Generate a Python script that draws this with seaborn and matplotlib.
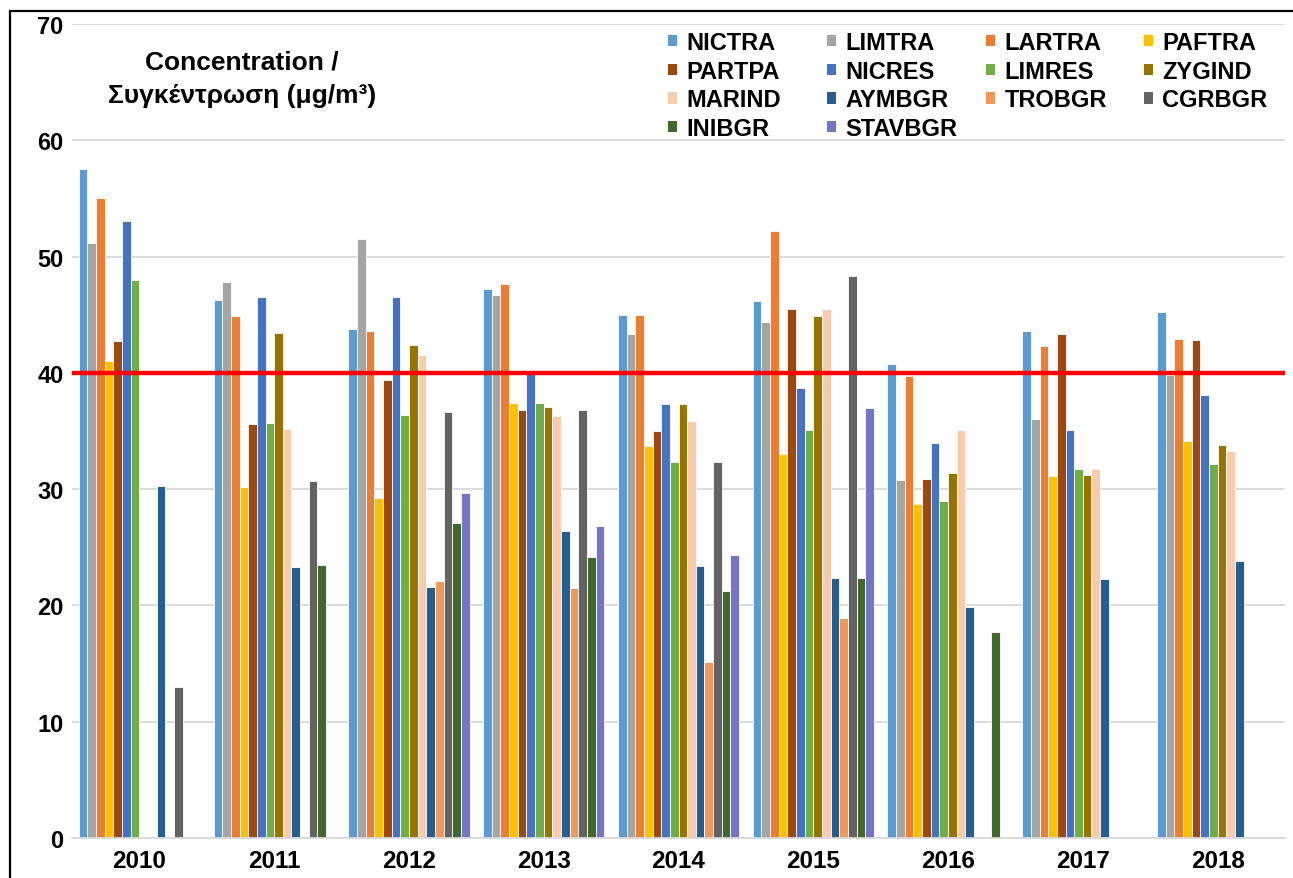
import numpy as np
import pandas as pd
import matplotlib
matplotlib.use("Agg")
import matplotlib.pyplot as plt
import seaborn as sns
from matplotlib.patches import Patch, Rectangle

# data (NO2 annual means, µg/m3)
years = ['2010', '2011', '2012', '2013', '2014', '2015', '2016', '2017', '2018']
stations = ['NICTRA', 'LIMTRA', 'LARTRA', 'PAFTRA', 'PARTPA', 'NICRES', 'LIMRES',
            'ZYGIND', 'MARIND', 'AYMBGR', 'TROBGR', 'CGRBGR', 'INIBGR', 'STAVBGR']

NICTRA = [57.5, 46.3, 43.8, 47.2, 45.0, 46.2, 40.8, 43.6, 45.2]
LIMTRA = [51.2, 47.8, 51.5, 46.7, 43.3, 44.4, 30.8, 36.0, 39.8]
LARTRA = [55.0, 44.9, 43.6, 47.6, 45.0, 52.2, 39.7, 42.3, 42.9]
PAFTRA = [41.0, 30.2, 29.2, 37.4, 33.7, 33.0, 28.7, 31.1, 34.1]
PARTPA = [42.7, 35.6, 39.4, 36.8, 35.0, 45.5, 30.9, 43.3, 42.8]
NICRES = [53.1, 46.5, 46.5, 39.9, 37.3, 38.7, 34.0, 35.1, 38.1]
LIMRES = [48.0, 35.7, 36.4, 37.4, 32.3, 35.1, 29.0, 31.7, 32.2]
ZYGIND = [None, 43.4, 42.4, 37.1, 37.3, 44.9, 31.4, 31.2, 33.8]
MARIND = [None, 35.2, 41.5, 36.3, 35.9, 45.5, 35.1, 31.7, 33.3]
AYMBGR = [30.3, 23.3, 21.6, 26.4, 23.4, 22.4, 19.9, 22.3, 23.8]
TROBGR = [None, None, 22.1, 21.5, 15.1, 18.9, None, None, None]
CGRBGR = [13.0, 30.7, 36.6, 36.8, 32.3, 48.3, None, None, None]
INIBGR = [None, 23.5, 27.1, 24.2, 21.2, 22.4, 17.7, None, None]
STAVBGR = [None, None, 29.7, 26.8, 24.3, 37.0, None, None, None]

limit_value = 40

colors = ['#5B9BD5', '#A5A5A5', '#ED7D31', '#FFC000', '#9E480E', '#4472C4', '#70AD47',
          '#997300', '#F8CBAD', '#255E91', '#F1975A', '#636363', '#43682B', '#7474C8']

series = [NICTRA, LIMTRA, LARTRA, PAFTRA, PARTPA, NICRES, LIMRES,
          ZYGIND, MARIND, AYMBGR, TROBGR, CGRBGR, INIBGR, STAVBGR]

rows = []
for name, vals in zip(stations, series):
    for yr, v in zip(years, vals):
        if v is not None:
            rows.append({'year': yr, 'station': name, 'value': v})
df = pd.DataFrame(rows)

sns.set_style('white')
plt.rcParams['font.family'] = ['Liberation Sans', 'DejaVu Sans']
plt.rcParams['font.weight'] = 'bold'
plt.rcParams['text.color'] = 'black'
plt.rcParams['xtick.color'] = 'black'
plt.rcParams['ytick.color'] = 'black'

W, H = 1293, 879
fig = plt.figure(figsize=(W / 100, H / 100), dpi=100)
ax = fig.add_axes([72 / W, 1 - 839 / H, (1285 - 72) / W, (839 - 25) / H])

sns.barplot(data=df, x='year', y='value', hue='station', order=years,
            hue_order=stations, palette=colors, width=0.9, saturation=1,
            errorbar=None, edgecolor='white', linewidth=0.6, legend=False,
            ax=ax, zorder=2)

# limit value line
ax.axhline(limit_value, color='red', lw=3.2, zorder=4)

ax.set_xlim(-0.5, len(years) - 0.5)
ax.set_ylim(0, 70)
ax.set_yticks(np.arange(0, 71, 10))
ax.yaxis.grid(True, color='#d9d9d9', lw=1.3, zorder=0)
ax.set_axisbelow(True)
for s in ['top', 'right', 'left']:
    ax.spines[s].set_visible(False)
ax.spines['bottom'].set_color('#d9d9d9')
ax.spines['bottom'].set_linewidth(1.3)
ax.tick_params(axis='y', length=0, pad=6, labelsize=17, labelcolor='black')
ax.tick_params(axis='x', length=0, pad=8, labelsize=17.5, labelcolor='black')
for lbl in ax.get_xticklabels() + ax.get_yticklabels():
    lbl.set_fontweight('bold')
ax.set_xlabel('')
ax.set_ylabel('')

# in-plot unit title
fig.text(242 / W, 1 - 63 / H, 'Concentration /', ha='center', va='center',
         fontsize=19, fontweight='bold', color='black')
fig.text(242 / W, 1 - 96 / H, 'Συγκέντρωση (μg/m³)', ha='center', va='center',
         fontsize=19, fontweight='bold', color='black')

# legend: four columns, each its own legend so columns are evenly spaced
col_x = [668, 827, 986, 1144]
for c in range(4):
    idx = list(range(c, len(stations), 4))
    handles = [Patch(facecolor=colors[i], edgecolor='none') for i in idx]
    leg = fig.legend(handles, [stations[i] for i in idx], loc='upper left',
                     bbox_to_anchor=(col_x[c] / W, 1 - 32 / H), frameon=False,
                     borderpad=0, borderaxespad=0, handlelength=0.36,
                     handleheight=0.36, handletextpad=0.42, labelspacing=0.24,
                     prop={'size': 17, 'weight': 'bold'}, labelcolor='black')

# outer chart border
fig.patches.append(Rectangle((10 / W, -0.05), 1.1, 1 - 12 / H + 0.05,
                             transform=fig.transFigure, fill=False,
                             edgecolor='black', lw=1.6, clip_on=False))

fig.savefig('out.png', dpi=100)
